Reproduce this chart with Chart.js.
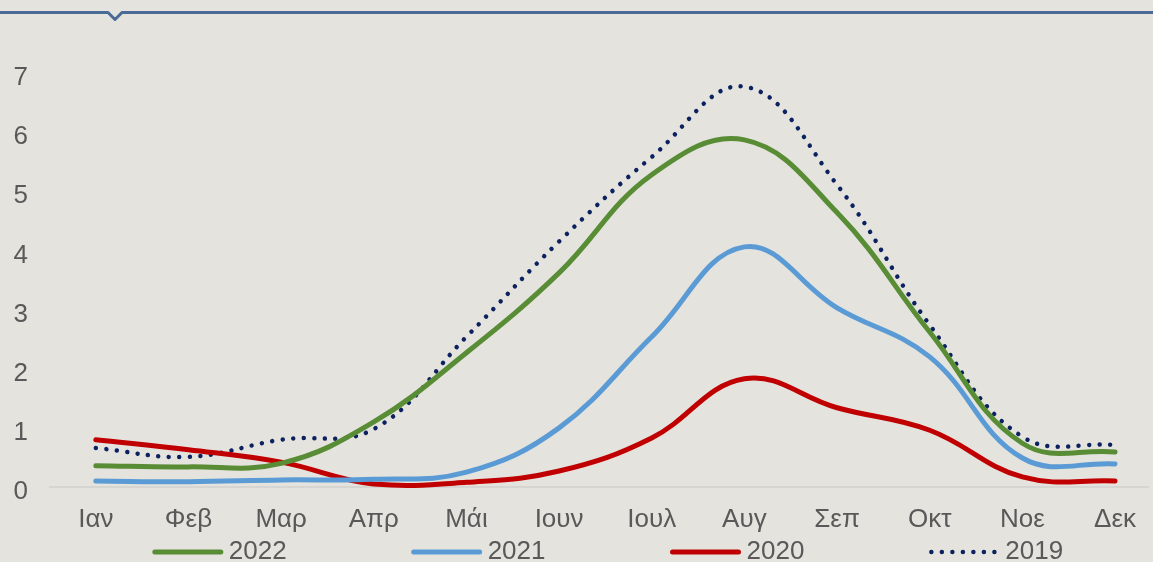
<!DOCTYPE html>
<html>
<head>
<meta charset="utf-8">
<script src="https://cdn.jsdelivr.net/npm/chart.js@4.4.1/dist/chart.umd.min.js"></script>
<style>
  html, body { margin: 0; padding: 0; background: #e4e3de; overflow: hidden; }
  #wrap { position: relative; width: 1153px; height: 562px; }
</style>
</head>
<body>
<div id="wrap"><canvas id="chart" width="1153" height="562"></canvas></div>
<script>
const months = ['Ιαν', 'Φεβ', 'Μαρ', 'Απρ', 'Μάι', 'Ιουν', 'Ιουλ', 'Αυγ', 'Σεπ', 'Οκτ', 'Νοε', 'Δεκ'];
const yearLabels = ['2022', '2021', '2020', '2019'];
const values2022 = [0.36, 0.34, 0.40, 1.10, 2.27, 3.62, 5.28, 5.87, 4.64, 2.62, 0.74, 0.59];
const values2021 = [0.10, 0.09, 0.12, 0.13, 0.25, 1.00, 2.54, 4.06, 3.03, 2.20, 0.49, 0.39];
const values2020 = [0.80, 0.63, 0.42, 0.05, 0.08, 0.27, 0.83, 1.83, 1.34, 0.96, 0.17, 0.10];
const values2019 = [0.66, 0.51, 0.80, 0.98, 2.54, 4.15, 5.58, 6.77, 5.11, 2.74, 0.85, 0.71];

const FONT = '"Liberation Sans", Arial, sans-serif';
const TEXT = '#595959';
const FONT_SIZE = 26;

const toPoints = vals => vals.map((v, i) => ({x: i, y: v}));

const line = (label, vals, color, dash) => ({
    label: label,
    data: toPoints(vals),
    borderColor: color,
    backgroundColor: color,
    borderWidth: dash ? 4.5 : 5,
    borderDash: dash || [],
    borderCapStyle: 'round',
    borderJoinStyle: 'round',
    tension: 0.4,
    pointRadius: 0,
    fill: false,
    clip: false
});

// top rule with the little notch + the legend underneath
const decor = {
    id: 'decor',
    beforeDraw(chart) {
        const ctx = chart.ctx;
        ctx.save();
        ctx.strokeStyle = '#4a6b95';
        ctx.lineWidth = 3;
        ctx.lineJoin = 'round';
        ctx.beginPath();
        ctx.moveTo(0, 12.5);
        ctx.lineTo(108, 12.5);
        ctx.lineTo(115, 19.5);
        ctx.lineTo(122, 12.5);
        ctx.lineTo(1153, 12.5);
        ctx.stroke();
        ctx.restore();
    },
    afterDraw(chart) {
        const ctx = chart.ctx;
        ctx.save();
        ctx.font = FONT_SIZE + 'px ' + FONT;
        const sample = 70, gap = 6, space = 125, y = 552;
        const items = chart.data.datasets.map(ds => ({ds, w: sample + gap + ctx.measureText(ds.label).width}));
        const total = items.reduce((s, it) => s + it.w, 0) + space * (items.length - 1);
        let x = 608 - total / 2;
        items.forEach(it => {
            ctx.strokeStyle = it.ds.borderColor;
            ctx.lineWidth = it.ds.borderWidth;
            ctx.lineCap = 'round';
            ctx.setLineDash(it.ds.borderDash);
            ctx.beginPath();
            ctx.moveTo(x + 2, y);
            ctx.lineTo(x + sample - 2, y);
            ctx.stroke();
            ctx.setLineDash([]);
            ctx.fillStyle = TEXT;
            ctx.textBaseline = 'middle';
            ctx.textAlign = 'left';
            ctx.fillText(it.ds.label, x + sample + gap, y);
            x += it.w + space;
        });
        ctx.restore();
    }
};

new Chart(document.getElementById('chart'), {
    type: 'line',
    data: {
        datasets: [
            line(yearLabels[0], values2022, '#588c35'),
            line(yearLabels[1], values2021, '#5b9bd5'),
            line(yearLabels[2], values2020, '#c00000'),
            line(yearLabels[3], values2019, '#0c2160', [0.01, 10.5])
        ]
    },
    options: {
        responsive: false,
        animation: false,
        devicePixelRatio: 1,
        layout: {padding: {top: 73, left: 0, right: 0, bottom: 0}},
        plugins: {
            legend: {display: false},
            tooltip: {enabled: false}
        },
        scales: {
            x: {
                type: 'linear',
                min: -0.4946,
                max: 11.366,
                grid: {display: false, drawTicks: false},
                border: {display: true, color: '#d6d5d1', width: 2},
                afterFit: scale => { scale.height = 75; },
                ticks: {
                    stepSize: 1,
                    includeBounds: false,
                    autoSkip: false,
                    maxRotation: 0,
                    padding: 17,
                    color: TEXT,
                    font: {family: FONT, size: FONT_SIZE},
                    callback: v => months[v] || ''
                }
            },
            y: {
                min: 0,
                max: 7,
                grid: {display: false, drawTicks: false},
                border: {display: false},
                afterFit: scale => { scale.width = 50; },
                ticks: {
                    stepSize: 1,
                    padding: 22,
                    labelOffset: 5,
                    color: TEXT,
                    font: {family: FONT, size: FONT_SIZE}
                }
            }
        }
    },
    plugins: [decor]
});
</script>
</body>
</html>
